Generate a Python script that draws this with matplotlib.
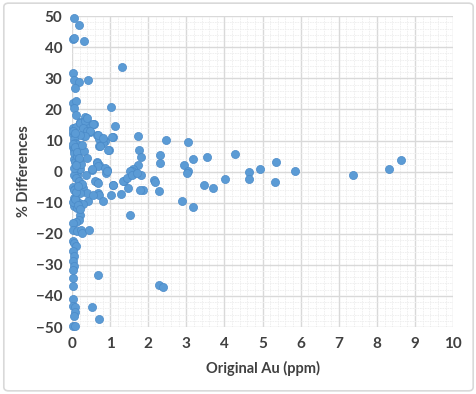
import numpy as np
import matplotlib.pyplot as plt
from matplotlib.patches import FancyBboxPatch

# data (Original Au in ppm, % difference)
au_ppm = [
    0.05, 0.18, 0.02, 0.06, 0.31, 1.32, 0.02, 0.05, 0.17, 0.41,
    0.08, 0.02, 0.10, 0.05, 1.02, 0.10, 0.34, 0.02, 0.10, 1.13,
    0.21, 0.43, 0.58, 0.32, 0.47, 0.66, 0.72, 1.08, 0.72, 0.87,
    0.97, 1.73, 2.46, 3.05, 1.77, 1.80, 2.31, 2.31, 3.17, 3.54,
    4.27, 2.95, 3.04, 3.01, 1.72, 1.66, 1.62, 1.60, 1.57, 1.80,
    0.93, 0.89, 0.66, 0.70, 0.52, 0.37, 0.66, 1.07, 1.37, 1.48,
    2.16, 2.18, 2.28, 3.45, 3.69, 4.01, 1.85, 1.78, 4.65, 4.65,
    4.93, 5.34, 5.32, 5.86, 7.36, 8.32, 8.63, 0.67, 0.72, 1.02,
    1.29, 0.43, 0.80, 2.88, 3.17, 1.52, 0.21, 0.17, 0.10, 0.03,
    0.02, 0.14, 0.23, 0.25, 0.45, 0.02, 0.05, 0.10, 0.02, 0.05,
    0.02, 0.05, 0.02, 0.67, 0.02, 0.03, 2.29, 2.40, 0.03, 0.03,
    0.07, 0.07, 0.05, 0.52, 0.72, 0.02, 0.07, 0.80, 0.73, 0.95,
    0.65, 0.69, 0.87, 0.91, 0.52, 0.14, 0.12, 0.60, 0.69, 1.08,
    1.35, 1.44, 1.52, 1.57, 1.70, 0.30, 0.39, 0.56, 0.21, 0.34,
    0.39, 0.56, 0.30, 0.39, 0.47, 0.34, 0.69, 0.82, 1.04, 0.21,
    0.02, 0.05, 0.08, 0.03, 0.06, 0.10, 0.13, 0.16, 0.04, 0.09,
    0.12, 0.15, 0.20, 0.05, 0.11, 0.18, 0.25, 0.03, 0.08, 0.14,
    0.22, 0.05, 0.10, 0.17, 0.28, 0.04, 0.12, 0.02, 0.08, 0.15,
    0.20, 0.03, 0.09, 0.14, 0.06, 0.12, 0.18, 0.24, 0.04, 0.10,
    0.16, 0.02, 0.07, 0.13, 0.19, 0.05, 0.11, 0.32, 0.40, 0.27,
]
pct_diff = [
    49.3, 47.0, 42.6, 42.9, 42.0, 33.6, 31.6, 29.4, 28.8, 29.4,
    27.0, 22.2, 22.7, 20.4, 20.9, 18.3, 17.6, 14.0, 14.4, 14.8,
    15.9, 15.7, 15.2, 11.6, 12.7, 11.7, 10.5, 11.2, 8.2, 9.8,
    7.1, 11.4, 10.1, 9.5, 7.1, 4.7, 5.2, 2.8, 4.2, 4.7,
    5.6, 2.0, 0.1, -0.6, 2.0, 0.0, -0.5, 0.8, 0.3, -1.0,
    0.4, -0.4, 3.1, 2.0, 0.6, -1.0, -3.4, -4.4, -3.1, -5.3,
    -2.6, -3.3, -6.1, -4.3, -5.3, -2.3, -6.0, -5.8, -0.1, -2.3,
    0.9, 3.1, -3.2, 0.2, -1.0, 0.9, 3.6, -6.9, -7.4, -7.4,
    -7.1, -9.5, -9.6, -9.4, -11.4, -14.1, -14.1, -15.7, -16.2, -16.5,
    -18.7, -19.1, -18.9, -19.8, -18.9, -22.3, -23.0, -23.8, -25.7, -27.0,
    -28.9, -30.3, -31.6, -33.4, -34.3, -36.7, -36.5, -37.2, -41.1, -43.1,
    -43.7, -45.1, -46.5, -43.4, -47.5, -49.7, -49.7, 9.2, 8.2, 7.1,
    2.8, 1.7, 1.2, 0.1, 0.9, -0.4, -1.5, -3.1, -3.6, -4.2,
    -3.1, -2.0, 0.1, -1.0, -0.4, -5.3, -6.9, -7.4, 15.7, 16.2,
    17.3, 15.2, 14.1, 13.0, 13.0, 11.4, 11.9, 10.9, 11.1, 11.9,
    12.0, 10.5, 9.3, 8.0, 7.0, 6.5, 5.5, 4.8, 4.0, 3.2,
    2.5, 1.5, 0.8, -1.2, -2.2, -3.0, -4.0, -4.8, -5.5, -6.2,
    -7.0, -8.5, -9.2, -10.0, -10.5, -11.0, -11.8, -9.8, -8.8, -10.8,
    -12.0, 13.2, 12.3, 9.0, 6.0, 5.0, 3.8, 2.5, -5.8, -6.5,
    -4.5, 8.8, 7.8, 6.2, 4.5, 1.0, 2.2, 6.5, 4.3, 8.5,
]

fig = plt.figure(figsize=(4.77, 3.94), dpi=100)
plt.rcParams['font.family'] = ['Lato', 'DejaVu Sans']

# rounded light border around the whole chart
border = FancyBboxPatch((0.008, 0.008), 0.984, 0.984, boxstyle="round,pad=0,rounding_size=0.01",
                        transform=fig.transFigure, fill=False, edgecolor="#d9d9d9", linewidth=1.2)
fig.patches.append(border)

ax = fig.add_axes([0.151, 0.170, 0.799, 0.789])
ax.scatter(au_ppm, pct_diff, s=34, color="#5b9bd5", edgecolors="#4a8ac8", linewidths=0.5,
           zorder=3, clip_on=False)

ax.set_xlim(0, 10)
ax.set_ylim(-50, 50)
ax.set_xticks(np.arange(0, 11, 1))
ax.set_yticks(np.arange(-50, 51, 10))
ax.set_xticks(np.arange(0, 10.01, 0.2), minor=True)
ax.set_yticks(np.arange(-50, 50.1, 2), minor=True)
ax.grid(which="major", color="#d9d9d9", linewidth=1.0, zorder=1)
ax.grid(which="minor", color="#eeeeee", linewidth=0.6, linestyle=(0, (2, 1)), zorder=0)
ax.set_axisbelow(True)
for s in ax.spines.values():
    s.set_visible(False)
ax.tick_params(which="both", length=0, labelsize=11, labelcolor="#404040", pad=7)
for lab in ax.get_xticklabels() + ax.get_yticklabels():
    lab.set_fontweight("bold")

ax.set_xlabel("Original Au (ppm)", fontsize=10.5, fontweight="bold", color="#404040", labelpad=7)
ax.set_ylabel("% Differences", fontsize=10.5, fontweight="bold", color="#404040", labelpad=3)

fig.savefig("out.png", dpi=100)
